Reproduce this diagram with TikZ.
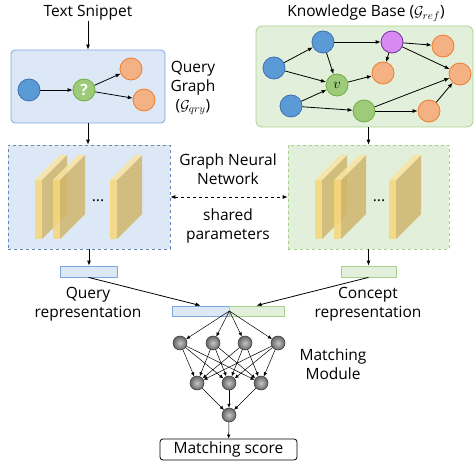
\documentclass[tikz,border=0pt]{standalone}
\usepackage{fontspec}
\setmainfont{Open Sans}
\usepackage{amsmath,amssymb}
\usetikzlibrary{positioning,arrows.meta}

\definecolor{qfill}{HTML}{DDE8F6}
\definecolor{qline}{HTML}{7FA6DD}
\definecolor{kfill}{HTML}{E2EFDA}
\definecolor{kline}{HTML}{A9D18E}
\definecolor{nblue}{HTML}{5B9BD5}
\definecolor{nblueline}{HTML}{3C6FB4}
\definecolor{ngreen}{HTML}{9DCB7A}
\definecolor{ngreenline}{HTML}{70AD47}
\definecolor{norange}{HTML}{F4B183}
\definecolor{norangeline}{HTML}{ED7D31}
\definecolor{npurple}{HTML}{D98AF2}
\definecolor{npurpleline}{HTML}{7030A0}
\definecolor{slabfront}{HTML}{F7D77A}
\definecolor{slabtop}{HTML}{FAE4A2}
\definecolor{slabside}{HTML}{D0B66C}

\begin{document}
\begin{tikzpicture}[x=1pt,y=-1pt,font=\fontsize{15.5}{19}\selectfont,
  lbl/.style={align=center, inner sep=0pt},
  gnode/.style={circle, minimum size=22pt, inner sep=0pt, line width=0.8pt},
  bnode/.style={gnode, fill=nblue, draw=nblueline},
  grnode/.style={gnode, fill=ngreen, draw=ngreenline, text=white},
  onode/.style={gnode, fill=norange, draw=norangeline},
  pnode/.style={gnode, fill=npurple, draw=npurpleline},
  edge/.style={-{Latex[length=5pt,width=4pt]}, line width=0.8pt},
  nedge/.style={-{Latex[length=4pt,width=3.5pt]}, line width=0.5pt},
  neuron/.style={circle, minimum size=14pt, inner sep=0pt, draw=black!80, line width=0.5pt, inner color=gray!45, outer color=gray!80!black, shading=radial},
  repbar/.style={rectangle, minimum height=11pt, inner sep=0pt, line width=0.8pt},
]
\useasboundingbox (0,0) rectangle (476,462);

%Boxes
\node[rectangle, rounded corners=4pt, fill=qfill, draw=qline, line width=0.8pt, minimum width=154pt, minimum height=73pt] (qg) at (88,86.5) {};
\node[rectangle, rounded corners=6pt, fill=kfill, draw=kline, line width=0.8pt, minimum width=217pt, minimum height=101pt] (kb) at (364.5,76.5) {};
\node[rectangle, dashed, fill=qfill, draw=qline!80!black, line width=0.7pt, minimum width=162pt, minimum height=104pt] (gnnL) at (89,197) {};
\node[rectangle, dashed, fill=kfill, draw=kline, line width=0.7pt, minimum width=161pt, minimum height=104pt] (gnnR) at (368.5,197) {};

%Labels
\node[lbl] (snip) at (88,13) {Text Snippet};
\node[lbl] (kbtitle) at (366,13) {Knowledge Base ($\mathcal{G}_{ref}$)};
\node[lbl] (qglab) at (193,88) {Query\\Graph\\($\mathcal{G}_{qry}$)};
\node[lbl] (gnnlab) at (228,169.5) {Graph Neural\\Network};
\node[lbl] (sharedlab) at (228,226) {shared\\parameters};
\node[lbl] (qlab) at (88,304) {Query\\representation};
\node[lbl] (clab) at (368,304) {Concept\\representation};
\node[lbl] (mmlab) at (333,364) {Matching\\Module};

%Query graph
\node[bnode] (q1) at (29,90) {};
\node[grnode] (q2) at (84,90) {\textbf{?}};
\node[onode] (q3) at (131,69) {};
\node[onode] (q4) at (144,100) {};
\draw[edge] (q1) -- (q2);
\draw[edge] (q2) -- (q3);
\draw[edge] (q2) -- (q4);

%Knowledge graph
\node[bnode] (k1) at (274,68) {};
\node[bnode] (k2) at (323,42) {};
\node[bnode] (k3) at (291,106) {};
\node[grnode, text=black] (kv) at (337,85) {$v$};
\node[pnode] (kp) at (392,42) {};
\node[onode] (ko1) at (443,46) {};
\node[onode] (ko2) at (383,73) {};
\node[onode] (ko3) at (460,74) {};
\node[grnode] (kg) at (364,111) {};
\node[onode] (ko4) at (429,111) {};
\draw[edge] (k1) -- (k2);
\draw[edge] (k1) -- (kv);
\draw[edge] (k2) -- (kv);
\draw[edge] (k2) -- (kp);
\draw[edge] (k3) -- (kv);
\draw[edge] (k3) -- (kg);
\draw[edge] (kv) -- (ko2);
\draw[edge] (kp) -- (ko1);
\draw[edge] (kp) -- (ko2);
\draw[edge] (kp) -- (ko3);
\draw[edge] (kg) -- (ko3);
\draw[edge] (kg) -- (ko4);
\draw[edge] (ko4) -- (ko3);

%GNN layers
\foreach \sx in {35,53,110,315,334,389} {
  \fill[slabside, fill opacity=0.85] (\sx+7,180) -- (\sx+32,155) -- (\sx+32,214) -- (\sx+7,239) -- cycle;
  \fill[slabtop, fill opacity=0.85] (\sx,180) -- (\sx+7,180) -- (\sx+32,155) -- (\sx+25,155) -- cycle;
  \fill[slabfront, fill opacity=0.85] (\sx,180) rectangle (\sx+7,239);
}
\node[lbl] (dotsL) at (98,201) {...};
\node[lbl] (dotsR) at (379,201) {...};

%Representations
\node[repbar, fill=qfill, draw=qline, minimum width=57pt] (qrep) at (88.5,271.5) {};
\node[repbar, fill=kfill, draw=kline, minimum width=55pt] (crep) at (368.5,271.5) {};
\node[repbar, fill=qfill, draw=qline, minimum width=57pt, minimum height=10pt] (catq) at (200.5,311) {};
\node[repbar, fill=kfill, draw=kline, minimum width=55pt, minimum height=10pt] (catc) at (256.5,311) {};
\coordinate (cat) at (catq.east);

%Matching module
\node[neuron] (t1) at (180,343) {};
\node[neuron] (t2) at (213,343) {};
\node[neuron] (t3) at (245,343) {};
\node[neuron] (t4) at (278,343) {};
\node[neuron] (m1) at (197,383) {};
\node[neuron] (m2) at (229,383) {};
\node[neuron] (m3) at (261,383) {};
\node[neuron] (b1) at (229,415) {};
\node[rectangle, rounded corners=3pt, draw=black, line width=0.8pt, minimum width=137pt, minimum height=21pt, inner sep=0pt] (score) at (228.5,449.5) {Matching score};

%Lines
\draw[edge] (snip.south) -- (qg.north);
\draw[edge] (qg.south) -- (qg.south |- gnnL.north);
\draw[edge] (kb.south -| gnnR.north) -- (gnnR.north);
\draw[{Latex[length=5pt,width=4pt]}-{Latex[length=5pt,width=4pt]}, dashed, line width=0.8pt] (gnnL.east) -- (gnnR.west);
\draw[edge] (gnnL.south) -- (gnnL.south |- qrep.north);
\draw[edge] (gnnR.south) -- (crep.north);
\draw[edge] (qrep.south) -- (catq.north);
\draw[edge] (crep.south) -- (catc.north);
\foreach \t in {t1,t2,t3,t4} {
  \draw[nedge] (cat) -- (\t);
  \foreach \m in {m1,m2,m3} \draw[nedge] (\t) -- (\m);
}
\foreach \m in {m1,m2,m3} \draw[nedge] (\m) -- (b1);
\draw[nedge] (b1) -- (score);

\end{tikzpicture}
\end{document}
